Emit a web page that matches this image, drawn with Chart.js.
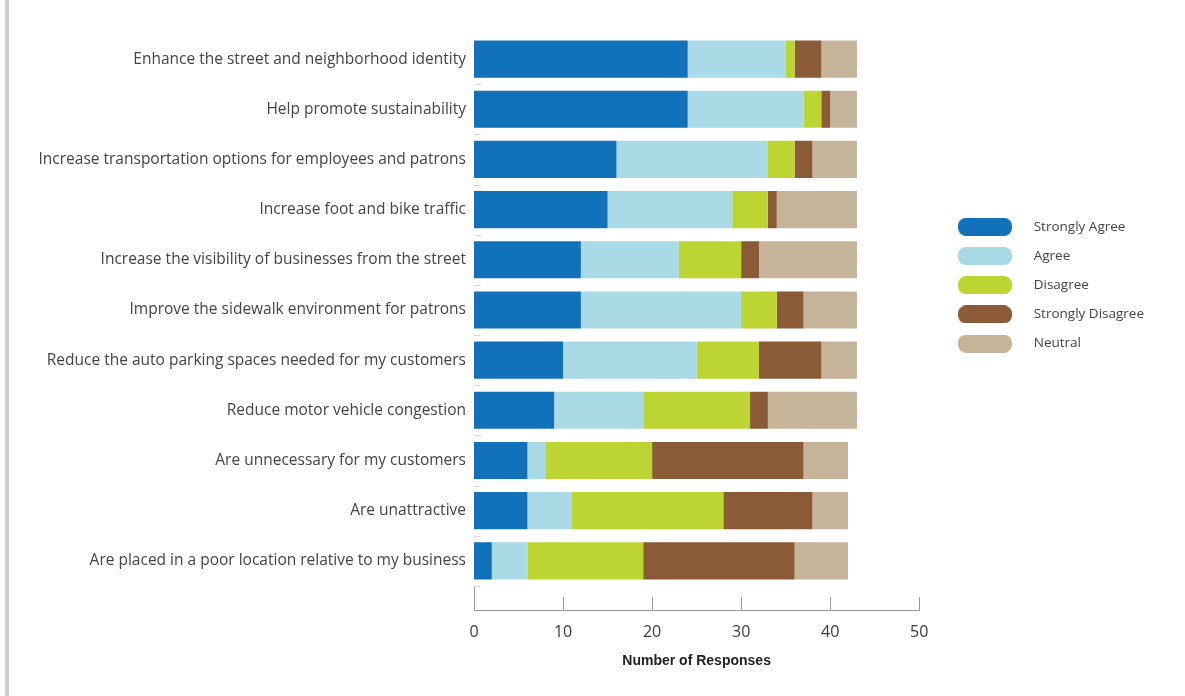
<!DOCTYPE html>
<html lang="en">
<head>
  <meta charset="UTF-8">
  <title>Street Seat Survey Responses</title>
  <script src="https://cdn.jsdelivr.net/npm/chart.js"></script>
  <style>
    body { margin: 0; background: #fff; }
    #wrap { position: relative; width: 1185px; height: 696px; }
    #edge { position: absolute; left: 5px; top: 0; width: 4px; height: 696px; background: #cfcfcf; }
    canvas { position: absolute; left: 0; top: 0; }
  </style>
</head>
<body>
  <div id="wrap">
    <canvas id="surveyChart" width="1185" height="696"></canvas>
    <div id="edge"></div>
  </div>

  <script>
    const categories = [
      "Enhance the street and neighborhood identity",
      "Help promote sustainability",
      "Increase transportation options for employees and patrons",
      "Increase foot and bike traffic",
      "Increase the visibility of businesses from the street",
      "Improve the sidewalk environment for patrons",
      "Reduce the auto parking spaces needed for my customers",
      "Reduce motor vehicle congestion",
      "Are unnecessary for my customers",
      "Are unattractive",
      "Are placed in a poor location relative to my business"
    ];
    const strongAgree    = [24, 24, 16, 15, 12, 12, 10, 9, 6, 6, 2];
    const agree          = [11, 13, 17, 14, 11, 18, 15, 10, 2, 5, 4];
    const disagree       = [1, 2, 3, 4, 7, 4, 7, 12, 12, 17, 13];
    const strongDisagree = [3, 1, 2, 1, 2, 3, 7, 2, 17, 10, 17];
    const neutral        = [4, 3, 5, 9, 11, 6, 4, 10, 5, 4, 6];
    const seriesNames = ["Strongly Agree", "Agree", "Disagree", "Strongly Disagree", "Neutral"];
    const seriesColors = ["#1172b9", "#a9dae6", "#bdd532", "#8b5a36", "#c5b39a"];
    const xTicks = [0, 10, 20, 30, 40, 50];

    // pill shaped legend swatch, with blank space around it
    function makePill(color) {
      const c = document.createElement("canvas");
      c.width = 92; c.height = 18;
      const g = c.getContext("2d");
      g.fillStyle = color;
      g.beginPath();
      g.roundRect(23, 0, 54, 18, 8);
      g.fill();
      return c;
    }
    const pills = seriesColors.map(makePill);

    const axisMarks = {
      id: "axisMarks",
      afterDraw(chart) {
        const ctx = chart.ctx;
        const x = chart.scales.x, y = chart.scales.y;
        const area = chart.chartArea;
        ctx.save();
        ctx.lineWidth = 1;
        ctx.strokeStyle = "#9a9a9a";
        xTicks.forEach(v => {
          const px = Math.round(x.getPixelForValue(v)) + 0.5;
          ctx.beginPath();
          ctx.moveTo(px, area.bottom);
          ctx.lineTo(px, area.bottom - 13);
          ctx.stroke();
        });
        const slot = y.getPixelForValue(1) - y.getPixelForValue(0);
        const lastEdge = y.getPixelForValue(categories.length - 1) + slot / 2;
        ctx.beginPath();
        ctx.moveTo(area.left + 0.5, lastEdge);
        ctx.lineTo(area.left + 0.5, area.bottom);
        ctx.stroke();
        ctx.strokeStyle = "#d8d8d8";
        categories.forEach((c, i) => {
          const py = Math.round(y.getPixelForValue(i) + slot / 2) + 0.5;
          ctx.beginPath();
          ctx.moveTo(area.left, py);
          ctx.lineTo(area.left + 7, py);
          ctx.stroke();
        });
        ctx.restore();
      }
    };

    const values = [strongAgree, agree, disagree, strongDisagree, neutral];

    new Chart(document.getElementById("surveyChart"), {
      type: "bar",
      data: {
        labels: categories,
        datasets: seriesNames.map((name, i) => ({
          label: name,
          data: values[i],
          backgroundColor: seriesColors[i],
          borderWidth: 0,
          barPercentage: 0.74,
          categoryPercentage: 1
        }))
      },
      options: {
        indexAxis: "y",
        responsive: false,
        animation: false,
        layout: { padding: { top: 34, right: 31, bottom: 0, left: 0 } },
        plugins: {
          tooltip: { enabled: false },
          legend: {
            position: "right",
            align: "start",
            title: { display: true, text: "", padding: { top: 156, bottom: 0 } },
            labels: {
              usePointStyle: true,
              pointStyleWidth: 92,
              padding: 15.7,
              color: "#444",
              font: { family: "Open Sans", size: 13.5 },
              generateLabels(chart) {
                const items = Chart.defaults.plugins.legend.labels.generateLabels(chart);
                items.forEach((it, i) => { it.pointStyle = pills[i]; });
                return items;
              }
            }
          }
        },
        scales: {
          x: {
            stacked: true,
            min: 0,
            max: 50,
            afterBuildTicks(s) { s.ticks = xTicks.map(v => ({ value: v })); },
            grid: { display: false },
            border: { display: true, color: "#9a9a9a" },
            ticks: { color: "#3a3a3a", padding: 5, font: { family: "Open Sans", size: 16 } },
            title: {
              display: true,
              text: "Number of Responses",
              color: "#222",
              font: { family: "Liberation Sans", size: 14, weight: "bold" },
              padding: { top: 4, bottom: 26 }
            },
            afterFit(s) { s.height = 86; }
          },
          y: {
            stacked: true,
            grid: { display: false },
            border: { display: false },
            ticks: { color: "#444", padding: 0, font: { family: "Open Sans", size: 15.5 } },
            afterBuildTicks(s) { s._valueRange = categories.length + 0.48; },
            afterFit(s) { s.width = 474; }
          }
        }
      },
      plugins: [axisMarks]
    });
  </script>
</body>
</html>
